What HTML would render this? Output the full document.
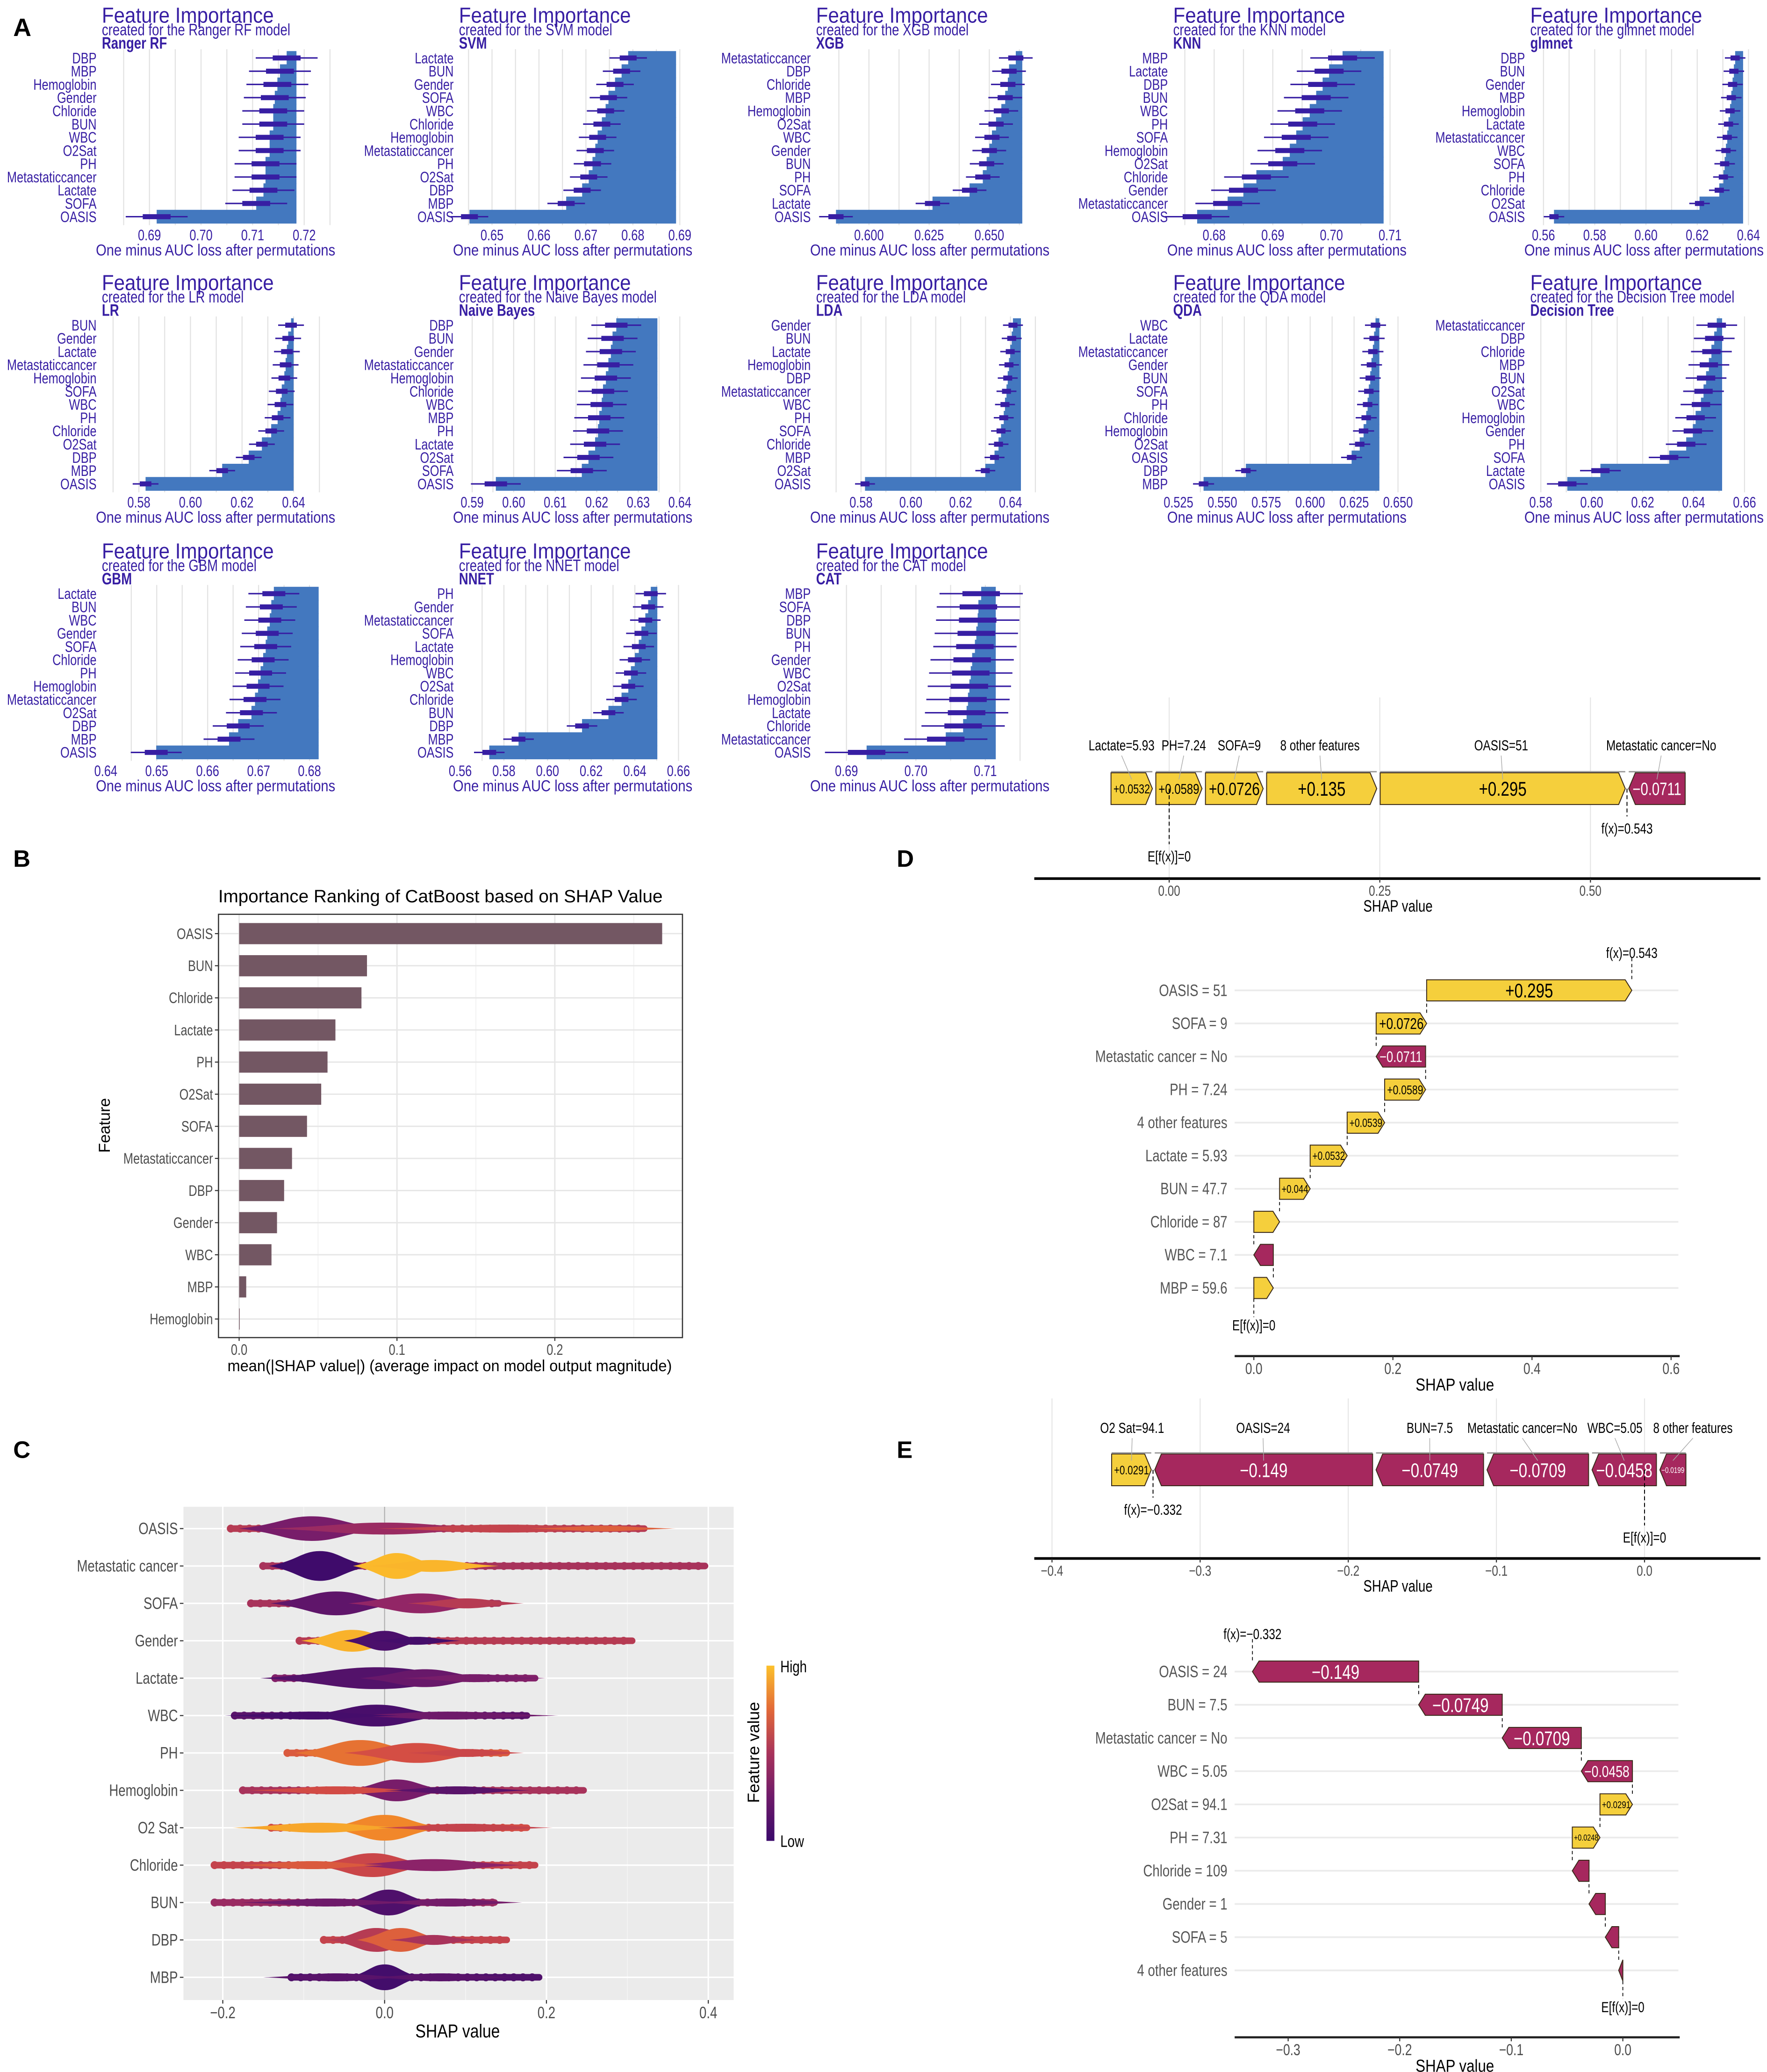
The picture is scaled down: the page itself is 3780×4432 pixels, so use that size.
<!DOCTYPE html>
<html><head><meta charset="utf-8"><title>Model explanation figure</title>
<style>
html,body{margin:0;padding:0;background:#fff;}
svg{display:block;}
text{font-family:"Liberation Sans",sans-serif;}
</style></head>
<body>
<svg id="fig" xmlns="http://www.w3.org/2000/svg" width="3780" height="4432" viewBox="0 0 1336 1566">
<rect x="0" y="0" width="1336" height="1566" fill="#fff"/>
<text x="10" y="27" font-size="19" font-weight="bold">A</text>
<text x="10" y="655" font-size="18" font-weight="bold">B</text>
<text x="10" y="1102" font-size="18" font-weight="bold">C</text>
<text x="678" y="655" font-size="18" font-weight="bold">D</text>
<text x="678" y="1102" font-size="18" font-weight="bold">E</text>
</svg>
<script>
// ---------- Panel A data ----------
const fiModels = ['Ranger RF','SVM','XGB','KNN','glmnet','LR','Naive Bayes','LDA','QDA','Decision Tree','GBM','NNET','CAT'];
const fiFeatures = [
 ['DBP','MBP','Hemoglobin','Gender','Chloride','BUN','WBC','O2Sat','PH','Metastaticcancer','Lactate','SOFA','OASIS'],
 ['Lactate','BUN','Gender','SOFA','WBC','Chloride','Hemoglobin','Metastaticcancer','PH','O2Sat','DBP','MBP','OASIS'],
 ['Metastaticcancer','DBP','Chloride','MBP','Hemoglobin','O2Sat','WBC','Gender','BUN','PH','SOFA','Lactate','OASIS'],
 ['MBP','Lactate','DBP','BUN','WBC','PH','SOFA','Hemoglobin','O2Sat','Chloride','Gender','Metastaticcancer','OASIS'],
 ['DBP','BUN','Gender','MBP','Hemoglobin','Lactate','Metastaticcancer','WBC','SOFA','PH','Chloride','O2Sat','OASIS'],
 ['BUN','Gender','Lactate','Metastaticcancer','Hemoglobin','SOFA','WBC','PH','Chloride','O2Sat','DBP','MBP','OASIS'],
 ['DBP','BUN','Gender','Metastaticcancer','Hemoglobin','Chloride','WBC','MBP','PH','Lactate','O2Sat','SOFA','OASIS'],
 ['Gender','BUN','Lactate','Hemoglobin','DBP','Metastaticcancer','WBC','PH','SOFA','Chloride','MBP','O2Sat','OASIS'],
 ['WBC','Lactate','Metastaticcancer','Gender','BUN','SOFA','PH','Chloride','Hemoglobin','O2Sat','OASIS','DBP','MBP'],
 ['Metastaticcancer','DBP','Chloride','MBP','BUN','O2Sat','WBC','Hemoglobin','Gender','PH','SOFA','Lactate','OASIS'],
 ['Lactate','BUN','WBC','Gender','SOFA','Chloride','PH','Hemoglobin','Metastaticcancer','O2Sat','DBP','MBP','OASIS'],
 ['PH','Gender','Metastaticcancer','SOFA','Lactate','Hemoglobin','WBC','O2Sat','Chloride','BUN','DBP','MBP','OASIS'],
 ['MBP','SOFA','DBP','BUN','PH','Gender','WBC','O2Sat','Hemoglobin','Lactate','Chloride','Metastaticcancer','OASIS']
];
const fiValues = [
 [0.7166,0.7153,0.7148,0.7143,0.7140,0.7140,0.7133,0.7133,0.7125,0.7125,0.7121,0.7107,0.6914],
 [0.6790,0.6776,0.6762,0.6748,0.6742,0.6734,0.6725,0.6720,0.6714,0.6706,0.6692,0.6658,0.6452],
 [0.6610,0.6582,0.6577,0.6566,0.6550,0.6528,0.6511,0.6500,0.6489,0.6473,0.6418,0.6264,0.5863],
 [0.7019,0.6996,0.6985,0.6974,0.6963,0.6951,0.6940,0.6929,0.6917,0.6872,0.6850,0.6823,0.6771],
 [0.6348,0.6343,0.6338,0.6333,0.6328,0.6322,0.6317,0.6312,0.6307,0.6302,0.6286,0.6209,0.5641],
 [0.6390,0.6379,0.6374,0.6369,0.6364,0.6354,0.6349,0.6338,0.6313,0.6277,0.6226,0.6123,0.5826],
 [0.6247,0.6238,0.6234,0.6228,0.6222,0.6215,0.6212,0.6206,0.6203,0.6196,0.6180,0.6164,0.5957],
 [0.6410,0.6405,0.6399,0.6394,0.6389,0.6384,0.6378,0.6373,0.6362,0.6352,0.6336,0.6299,0.5816],
 [0.6372,0.6364,0.6357,0.6349,0.6342,0.6334,0.6327,0.6319,0.6304,0.6282,0.6236,0.5634,0.5393],
 [0.6491,0.6481,0.6470,0.6460,0.6449,0.6439,0.6429,0.6408,0.6397,0.6371,0.6304,0.6034,0.5904],
 [0.6730,0.6725,0.6722,0.6717,0.6714,0.6709,0.6704,0.6699,0.6693,0.6686,0.6660,0.6642,0.6499],
 [0.6473,0.6461,0.6448,0.6430,0.6418,0.6400,0.6382,0.6370,0.6339,0.6279,0.6158,0.5867,0.5733],
 [0.7094,0.7090,0.7089,0.7087,0.7085,0.7081,0.7079,0.7077,0.7075,0.7073,0.7068,0.7043,0.6929]
];
const fiBase = [0.7185,0.6892,0.6637,0.7089,0.6379,0.6400,0.6346,0.6442,0.6394,0.6512,0.6818,0.6503,0.7115];
const fiSpread = [0.006,0.004,0.007,0.0055,0.004,0.005,0.006,0.004,0.006,0.008,0.005,0.007,0.006];
const fiTicks = [
 [0.69,0.70,0.71,0.72],[0.65,0.66,0.67,0.68,0.69],[0.600,0.625,0.650],[0.68,0.69,0.70,0.71],[0.56,0.58,0.60,0.62,0.64],
 [0.58,0.60,0.62,0.64],[0.59,0.60,0.61,0.62,0.63,0.64],[0.58,0.60,0.62,0.64],[0.525,0.550,0.575,0.600,0.625,0.650],[0.58,0.60,0.62,0.64,0.66],
 [0.64,0.65,0.66,0.67,0.68],[0.56,0.58,0.60,0.62,0.64,0.66],[0.69,0.70,0.71]
];
const fiTickLabels = [
 ['0.69','0.70','0.71','0.72'],['0.65','0.66','0.67','0.68','0.69'],['0.600','0.625','0.650'],['0.68','0.69','0.70','0.71'],['0.56','0.58','0.60','0.62','0.64'],
 ['0.58','0.60','0.62','0.64'],['0.59','0.60','0.61','0.62','0.63','0.64'],['0.58','0.60','0.62','0.64'],['0.525','0.550','0.575','0.600','0.625','0.650'],['0.58','0.60','0.62','0.64','0.66'],
 ['0.64','0.65','0.66','0.67','0.68'],['0.56','0.58','0.60','0.62','0.64','0.66'],['0.69','0.70','0.71']
];
// layout: pixel position (relative to panel) of first and last tick
const fiAxisLayout = [[113,230],[102,244],[117,208],[108,241],[87,242],[105,222],[87,244],[111,224],[81,247],[85,239],[80,234],[78,243],[100,205]];

// ---------- Panel B data ----------
const barFeatures = ['OASIS','BUN','Chloride','Lactate','PH','O2Sat','SOFA','Metastaticcancer','DBP','Gender','WBC','MBP','Hemoglobin'];
const barValues = [0.268,0.081,0.0775,0.061,0.056,0.052,0.043,0.0335,0.0285,0.024,0.0205,0.0045,0.0004];
const barTicks = [0.0,0.1,0.2];
const barTickLabels = ['0.0','0.1','0.2'];

// ---------- Panel C data ----------
const beeFeatures = ['OASIS','Metastatic cancer','SOFA','Gender','Lactate','WBC','PH','Hemoglobin','O2 Sat','Chloride','BUN','DBP','MBP'];
const beeMin = [-0.195,-0.155,-0.17,-0.11,-0.14,-0.19,-0.125,-0.18,-0.145,-0.215,-0.215,-0.08,-0.12];
const beeMax = [0.325,0.40,0.145,0.31,0.19,0.18,0.155,0.25,0.18,0.19,0.14,0.155,0.195];
const beeTailLevel = [0.55,0.5,0.5,0.55,0.35,0.15,0.7,0.5,0.65,0.6,0.45,0.6,0.1];
// components: [center, sigma, relative half-height, feature-value level 0..1]
const beeComponents = [
 [[0.0,0.08,0.3,0.45],[0.15,0.09,0.2,0.6],[0.27,0.05,0.14,0.72],[-0.09,0.05,0.62,0.3]],
 [[-0.08,0.035,0.75,0.02],[0.06,0.045,0.3,0.97],[0.015,0.03,0.65,0.98]],
 [[0.1,0.04,0.25,0.55],[0.045,0.05,0.5,0.42],[-0.06,0.045,0.6,0.18]],
 [[0.04,0.03,0.2,0.05],[-0.04,0.035,0.55,0.96],[0.0,0.028,0.5,0.08]],
 [[0.11,0.05,0.2,0.3],[-0.01,0.08,0.55,0.12],[0.05,0.045,0.45,0.22]],
 [[-0.09,0.06,0.2,0.05],[0.08,0.075,0.2,0.25],[-0.01,0.05,0.55,0.07]],
 [[0.1,0.04,0.2,0.62],[0.04,0.05,0.5,0.66],[-0.03,0.045,0.65,0.78]],
 [[-0.06,0.06,0.2,0.65],[0.09,0.05,0.2,0.15],[0.015,0.035,0.55,0.3]],
 [[-0.08,0.06,0.25,0.93],[0.1,0.06,0.2,0.6],[0.0,0.04,0.65,0.85]],
 [[-0.09,0.05,0.2,0.7],[0.06,0.06,0.3,0.4],[-0.015,0.042,0.6,0.62]],
 [[-0.07,0.06,0.2,0.25],[0.08,0.05,0.2,0.28],[0.005,0.03,0.65,0.1]],
 [[0.06,0.03,0.25,0.5],[-0.01,0.033,0.6,0.55],[0.02,0.03,0.6,0.72]],
 [[-0.06,0.05,0.2,0.15],[0.07,0.05,0.2,0.15],[0.0,0.025,0.65,0.04]]
];
const beeTicks = [-0.2,0.0,0.2,0.4];
const beeTickLabels = ['\u22120.2','0.0','0.2','0.4'];

// ---------- Panel D data ----------
const forceDLabels = ['Lactate=5.93','PH=7.24','SOFA=9','8 other features','OASIS=51','Metastatic cancer=No'];
const forceDValues = [0.0532,0.0589,0.0726,0.1348,0.295,-0.0711];
const forceDTicks = [0.0,0.25,0.5];
const forceDTickLabels = ['0.00','0.25','0.50'];
const waterDLabels = ['OASIS = 51','SOFA = 9','Metastatic cancer = No','PH = 7.24','4 other features','Lactate = 5.93','BUN = 47.7','Chloride = 87','WBC = 7.1','MBP = 59.6'];
const waterDValues = [0.295,0.0726,-0.0711,0.0589,0.0539,0.0532,0.044,0.037,-0.028,0.028];
const waterDTicks = [0.0,0.2,0.4,0.6];
const waterDTickLabels = ['0.0','0.2','0.4','0.6'];

// ---------- Panel E data ----------
const forceELabels = ['O2 Sat=94.1','OASIS=24','BUN=7.5','Metastatic cancer=No','WBC=5.05','8 other features'];
const forceEValues = [0.0291,-0.1494,-0.0749,-0.0709,-0.0458,-0.0199];
const forceETicks = [-0.4,-0.3,-0.2,-0.1,0.0];
const forceETickLabels = ['\u22120.4','\u22120.3','\u22120.2','\u22120.1','0.0'];
const waterELabels = ['OASIS = 24','BUN = 7.5','Metastatic cancer = No','WBC = 5.05','O2Sat = 94.1','PH = 7.31','Chloride = 109','Gender = 1','SOFA = 5','4 other features'];
const waterEValues = [-0.149,-0.0749,-0.0709,-0.0458,0.0291,0.0248,-0.015,-0.0146,-0.012,-0.0037];
const waterETicks = [-0.3,-0.2,-0.1,0.0];
const waterETickLabels = ['\u22120.3','\u22120.2','\u22120.1','0.0'];

// ---------- helpers ----------
const NS = 'http://www.w3.org/2000/svg';
const fig = document.getElementById('fig');
function mk(parent, tag, attrs, name, text) {
  const el = document.createElementNS(NS, tag);
  for (const k in attrs) el.setAttribute(k, attrs[k]);
  
  
  if (text !== undefined) el.textContent = text;
  parent.appendChild(el);
  return el;
}
// condensed text (emulates narrow font)
function T(parent, x, y, attrs, name, text, sx) {
  const s = sx === undefined ? 0.78 : sx;
  attrs.transform = 'translate(' + x + ' ' + y + ') scale(' + s + ' 1)';
  attrs.x = 0; attrs.y = 0;
  return mk(parent, 'text', attrs, name, text);
}
function group(name) { return mk(fig, 'g', {}, name); }
function fmt(v) {
  const a = Math.abs(v);
  const s = String(Number(a.toPrecision(3)));
  return (v >= 0 ? '+' : '\u2212') + s;
}
const YEL = '#f5cf3c', MAG = '#a6285e';

// ---------- Panel A ----------
(function () {
  const rowY = [0, 202, 405];
  const C = '#371ea3';
  for (let p = 0; p < fiModels.length; p++) {
    const g = group('feature-importance-' + fiModels[p].toLowerCase().replace(/ /g, '-'));
    const ox = (p % 5) * 270, oy = rowY[Math.floor(p / 5)];
    const t = fiTicks[p], a = fiAxisLayout[p];
    const t0 = t[0], tN = t[t.length - 1];
    const x = v => ox + a[0] + (v - t0) * (a[1] - a[0]) / (tN - t0);
    const step = (t[1] - t[0]) / 2;
    for (let k = -10; k < 40; k++) {
      const gv = t0 + k * step, gx = x(gv);
      if (gx < ox + 82 || gx > ox + 252) continue;
      mk(g, 'line', {x1: gx, x2: gx, y1: oy + 37, y2: oy + 170, stroke: '#e2e2e2', 'stroke-width': 0.8}, 'gridline');
    }
    mk(g, 'text', {x: ox + 77, y: oy + 17, 'font-size': 16.5, fill: C, textLength: 130, lengthAdjust: 'spacingAndGlyphs'}, 'chart-title', 'Feature Importance');
    T(g, ox + 77, oy + 26.5, {'font-size': 12.5, fill: C}, 'chart-subtitle', 'created for the ' + fiModels[p] + ' model');
    T(g, ox + 77, oy + 36.5, {'font-size': 12.5, fill: C, 'font-weight': 'bold'}, 'model-name', fiModels[p]);
    const base = fiBase[p], s = fiSpread[p];
    for (let i = 0; i < 13; i++) {
      const y = oy + 43.6 + i * 10;
      const v = fiValues[p][i];
      mk(g, 'rect', {x: Math.min(x(v), x(base)), y: y - 5.2, width: Math.abs(x(base) - x(v)), height: 10.4, fill: '#4378bf'}, 'bar-' + fiFeatures[p][i].toLowerCase());
    }
    for (let i = 0; i < 13; i++) {
      const y = oy + 43.6 + i * 10;
      const v = fiValues[p][i];
      mk(g, 'line', {x1: x(v - s), x2: x(v + s), y1: y, y2: y, stroke: C, 'stroke-width': 1.1}, 'whisker');
      mk(g, 'rect', {x: x(v - 0.45 * s), y: y - 1.9, width: x(v + 0.45 * s) - x(v - 0.45 * s), height: 3.8, fill: C}, 'box');
      T(g, ox + 73, y + 4, {'font-size': 11.5, fill: C, 'text-anchor': 'end'}, 'row-label', fiFeatures[p][i]);
    }
    for (let k = 0; k < t.length; k++) {
      T(g, x(t[k]), oy + 181.5, {'font-size': 11.5, fill: C, 'text-anchor': 'middle'}, 'x-tick-label', fiTickLabels[p][k]);
    }
    mk(g, 'text', {x: ox + 163, y: oy + 193, 'font-size': 12, fill: C, 'text-anchor': 'middle', textLength: 181, lengthAdjust: 'spacingAndGlyphs'}, 'x-axis-title', 'One minus AUC loss after permutations');
  }
})();

// ---------- Panel B ----------
(function () {
  const g = group('shap-importance-bar-chart');
  const x0 = 180.8, k = 1193.5;
  const x = v => x0 + v * k;
  const yRow = i => 705.6 + i * 24.28;
  mk(g, 'text', {x: 165, y: 682, 'font-size': 13.5, fill: '#000', textLength: 336, lengthAdjust: 'spacingAndGlyphs'}, 'chart-title', 'Importance Ranking of CatBoost based on SHAP Value');
  mk(g, 'rect', {x: 165.2, y: 691, width: 350.8, height: 320, fill: '#fff'}, 'plot-area');
  for (let v = 0.05; v < 0.3; v += 0.1) mk(g, 'line', {x1: x(v), x2: x(v), y1: 691, y2: 1011, stroke: '#f2f2f2', 'stroke-width': 0.7}, 'minor-gridline');
  barTicks.forEach(v => mk(g, 'line', {x1: x(v), x2: x(v), y1: 691, y2: 1011, stroke: '#e6e6e6', 'stroke-width': 1}, 'gridline'));
  barFeatures.forEach((f, i) => mk(g, 'line', {x1: 165.2, x2: 516, y1: yRow(i), y2: yRow(i), stroke: '#e6e6e6', 'stroke-width': 1}, 'gridline'));
  barFeatures.forEach((f, i) => {
    mk(g, 'rect', {x: x(0), y: yRow(i) - 8, width: Math.max(0.4, barValues[i] * k), height: 16, fill: '#735763'}, 'bar-' + f.toLowerCase());
    mk(g, 'line', {x1: 162.5, x2: 165.2, y1: yRow(i), y2: yRow(i), stroke: '#333', 'stroke-width': 0.8}, 'y-tick');
    T(g, 161, yRow(i) + 4, {'font-size': 11.5, fill: '#4d4d4d', 'text-anchor': 'end'}, 'y-tick-label', f);
  });
  mk(g, 'rect', {x: 165.2, y: 691, width: 350.8, height: 320, fill: 'none', stroke: '#333', 'stroke-width': 0.9}, 'plot-border');
  barTicks.forEach((v, i) => {
    mk(g, 'line', {x1: x(v), x2: x(v), y1: 1011, y2: 1013.5, stroke: '#333', 'stroke-width': 0.8}, 'x-tick');
    T(g, x(v), 1024, {'font-size': 11.5, fill: '#4d4d4d', 'text-anchor': 'middle'}, 'x-tick-label', barTickLabels[i]);
  });
  mk(g, 'text', {x: 340, y: 1036.5, 'font-size': 12, fill: '#000', 'text-anchor': 'middle', textLength: 336, lengthAdjust: 'spacingAndGlyphs'}, 'x-axis-title', 'mean(|SHAP value|) (average impact on model output magnitude)');
  mk(g, 'text', {x: 83, y: 850.6, 'font-size': 12, fill: '#000', 'text-anchor': 'middle', transform: 'rotate(-90 83 850.6)'}, 'y-axis-title', 'Feature');
})();

// ---------- Panel C ----------
function cmap(t) {
  const stops = [[0, [59, 10, 107]], [0.4, [140, 35, 105]], [0.65, [210, 75, 69]], [0.85, [241, 135, 42]], [1, [252, 193, 43]]];
  t = Math.max(0, Math.min(1, t));
  for (let i = 1; i < stops.length; i++) {
    if (t <= stops[i][0]) {
      const a = stops[i - 1], b = stops[i], f = (t - a[0]) / (b[0] - a[0]);
      const c = a[1].map((v, j) => Math.round(v + (b[1][j] - v) * f));
      return 'rgb(' + c.join(',') + ')';
    }
  }
  return 'rgb(252,193,43)';
}
(function () {
  const g = group('shap-beeswarm-chart');
  const x = v => 290.8 + v * 611.8;
  const yRow = i => 1155.4 + i * 28.27;
  mk(g, 'rect', {x: 138.7, y: 1138.9, width: 416, height: 372.9, fill: '#ebebeb'}, 'plot-background');
  for (let v = -0.1; v < 0.45; v += 0.2) mk(g, 'line', {x1: x(v), x2: x(v), y1: 1138.9, y2: 1511.8, stroke: '#f5f5f5', 'stroke-width': 0.6}, 'minor-gridline');
  beeTicks.forEach(v => mk(g, 'line', {x1: x(v), x2: x(v), y1: 1138.9, y2: 1511.8, stroke: '#fff', 'stroke-width': 1.1}, 'gridline'));
  beeFeatures.forEach((f, i) => mk(g, 'line', {x1: 138.7, x2: 554.7, y1: yRow(i), y2: yRow(i), stroke: '#fff', 'stroke-width': 1.1}, 'gridline'));
  mk(g, 'line', {x1: x(0), x2: x(0), y1: 1138.9, y2: 1511.8, stroke: '#b5b5b5', 'stroke-width': 0.9}, 'zero-line');
  beeFeatures.forEach((f, i) => {
    const y = yRow(i);
    const fg = mk(g, 'g', {}, 'beeswarm-row-' + f.toLowerCase().replace(/ /g, '-'));
    const col = cmap(beeTailLevel[i]);
    mk(fg, 'rect', {x: x(beeMin[i]), y: y - 2.5, width: x(beeMax[i]) - x(beeMin[i]), height: 5, rx: 2.5, fill: col}, 'point-band');
    for (let px = x(beeMin[i]) + 3; px <= x(beeMax[i]) - 3; px += 7) {
      mk(fg, 'circle', {cx: px, cy: y, r: 3, fill: col}, 'point');
    }
    const comps = beeComponents[i].slice().sort((a, b) => b[1] * b[2] - a[1] * a[2]);
    comps.forEach(c => {
      const cx = x(c[0]), rx = 1.8 * c[1] * 611.8, ry = c[2] * 15;
      const d = 'M' + (cx - rx) + ',' + y +
        ' C' + (cx - rx * 0.45) + ',' + (y - ry * 0.35) + ' ' + (cx - rx * 0.35) + ',' + (y - ry) + ' ' + cx + ',' + (y - ry) +
        ' C' + (cx + rx * 0.35) + ',' + (y - ry) + ' ' + (cx + rx * 0.45) + ',' + (y - ry * 0.35) + ' ' + (cx + rx) + ',' + y +
        ' C' + (cx + rx * 0.45) + ',' + (y + ry * 0.35) + ' ' + (cx + rx * 0.35) + ',' + (y + ry) + ' ' + cx + ',' + (y + ry) +
        ' C' + (cx - rx * 0.35) + ',' + (y + ry) + ' ' + (cx - rx * 0.45) + ',' + (y + ry * 0.35) + ' ' + (cx - rx) + ',' + y + ' Z';
      mk(fg, 'path', {d: d, fill: cmap(c[3])}, 'density-blob');
    });
    mk(g, 'line', {x1: 136, x2: 138.7, y1: y, y2: y, stroke: '#333', 'stroke-width': 0.8}, 'y-tick');
    T(g, 134.5, y + 4.2, {'font-size': 12.5, fill: '#4d4d4d', 'text-anchor': 'end'}, 'y-tick-label', f);
  });
  beeTicks.forEach((v, i) => {
    mk(g, 'line', {x1: x(v), x2: x(v), y1: 1511.8, y2: 1514.5, stroke: '#333', 'stroke-width': 0.8}, 'x-tick');
    T(g, x(v), 1525.5, {'font-size': 12.5, fill: '#4d4d4d', 'text-anchor': 'middle'}, 'x-tick-label', beeTickLabels[i]);
  });
  T(g, 346, 1540, {'font-size': 14, fill: '#000', 'text-anchor': 'middle'}, 'x-axis-title', 'SHAP value', 0.85);
  const defs = mk(g, 'defs', {}, 'defs');
  const lg = mk(defs, 'linearGradient', {id: 'cbar', x1: 0, y1: 1, x2: 0, y2: 0}, 'colorbar-gradient');
  [0, 0.25, 0.5, 0.75, 1].forEach(t => mk(lg, 'stop', {offset: t, 'stop-color': cmap(t)}, 'gradient-stop'));
  mk(g, 'rect', {x: 579.5, y: 1259, width: 6, height: 132.5, fill: 'url(#cbar)'}, 'colorbar');
  T(g, 590, 1264, {'font-size': 12.5, fill: '#000'}, 'legend-high', 'High');
  T(g, 590, 1396, {'font-size': 12.5, fill: '#000'}, 'legend-low', 'Low');
  mk(g, 'text', {x: 574, y: 1324.6, 'font-size': 12.5, fill: '#000', 'text-anchor': 'middle', transform: 'rotate(-90 574 1324.6)'}, 'legend-title', 'Feature value');
})();

// ---------- force plot ----------
function forcePlot(name, labels, values, ticks, tickLabels, L) {
  const g = group(name);
  const x = v => L.x0 + v * L.k;
  ticks.forEach(v => mk(g, 'line', {x1: x(v), x2: x(v), y1: L.gridTop, y2: L.axisY, stroke: '#e6e6e6', 'stroke-width': 0.8}, 'gridline'));
  const f = values.reduce((s, v) => s + v, 0);
  const sumPos = values.filter(v => v > 0).reduce((s, v) => s + v, 0);
  let curP = f - sumPos, curN = f;
  const d = 5, top = L.barY - 12, bot = L.barY + 12;
  values.forEach((v, i) => {
    let a, b;
    if (v > 0) { a = curP; b = curP + v; curP = b; } else { a = curN; b = curN - v; curN = b; }
    const xa = x(a) + 1.3, xb = x(b) - 1.3;
    let pts;
    if (v > 0) pts = [[xa, top], [xb - d, top], [xb, L.barY], [xb - d, bot], [xa, bot]];
    else pts = [[xa + d, top], [xb, top], [xb, bot], [xa + d, bot], [xa, L.barY]];
    mk(g, 'polygon', {points: pts.map(p => p.join(',')).join(' '), fill: v > 0 ? YEL : MAG, stroke: '#3a2a1a', 'stroke-width': 0.7}, 'segment-' + labels[i].toLowerCase().replace(/[^a-z0-9]+/g, '-'));
    mk(g, 'line', {x1: xa, x2: xb, y1: top - 0.8, y2: top - 0.8, stroke: '#999', 'stroke-width': 1}, 'segment-shadow');
    const w = xb - xa;
    const txt = fmt(v);
    const fs = Math.min(15, w / (txt.length * 0.46));
    T(g, (xa + xb) / 2, L.barY + fs * 0.36, {'font-size': fs.toFixed(2), fill: v > 0 ? '#000' : '#fff', 'text-anchor': 'middle'}, 'segment-value', txt);
    const cx = (xa + xb) / 2;
    mk(g, 'line', {x1: L.labelX[i], x2: cx, y1: L.labelY + 4, y2: top + 5, stroke: '#aaa', 'stroke-width': 0.5}, 'leader-line');
    T(g, L.labelX[i], L.labelY, {'font-size': 11, fill: '#000', 'text-anchor': 'middle'}, 'feature-label', labels[i]);
  });
  mk(g, 'line', {x1: x(0), x2: x(0), y1: L.barY, y2: L.eY - 9, stroke: '#000', 'stroke-width': 0.7, 'stroke-dasharray': '3,2'}, 'base-value-line');
  T(g, x(0), L.eY + 4, {'font-size': 11, fill: '#000', 'text-anchor': 'middle'}, 'base-value-label', 'E[f(x)]=0');
  mk(g, 'line', {x1: x(f), x2: x(f), y1: L.barY, y2: L.fY - 9, stroke: '#000', 'stroke-width': 0.7, 'stroke-dasharray': '3,2'}, 'prediction-line');
  T(g, x(f), L.fY + 4, {'font-size': 11, fill: '#000', 'text-anchor': 'middle'}, 'prediction-label', 'f(x)=' + (f < 0 ? '\u2212' : '') + Math.abs(f).toFixed(3));
  mk(g, 'line', {x1: 782, x2: 1331, y1: L.axisY, y2: L.axisY, stroke: '#000', 'stroke-width': 2}, 'x-axis-line');
  ticks.forEach((v, i) => {
    mk(g, 'line', {x1: x(v), x2: x(v), y1: L.axisY, y2: L.axisY + 3, stroke: '#333', 'stroke-width': 0.8}, 'x-tick');
    T(g, x(v), L.axisY + 13, {'font-size': 11, fill: '#4d4d4d', 'text-anchor': 'middle'}, 'x-tick-label', tickLabels[i]);
  });
  T(g, 1057, L.axisY + 25, {'font-size': 12.5, fill: '#000', 'text-anchor': 'middle'}, 'x-axis-title', 'SHAP value');
}
forcePlot('force-plot-d', forceDLabels, forceDValues, forceDTicks, forceDTickLabels,
  {x0: 884, k: 637, barY: 596, labelY: 567, labelX: [848, 895, 937, 998, 1135, 1256], gridTop: 527, axisY: 664, eY: 647, fY: 626});
forcePlot('force-plot-e', forceELabels, forceEValues, forceETicks, forceETickLabels,
  {x0: 1243.4, k: 1120, barY: 1111, labelY: 1083, labelX: [856, 955, 1081, 1151, 1221, 1280], gridTop: 1057, axisY: 1178, eY: 1162, fY: 1141});

// ---------- waterfall ----------
function waterfall(name, labels, values, ticks, tickLabels, L) {
  const g = group(name);
  const x = v => L.x0 + v * L.k;
  const n = values.length;
  const yRow = i => L.y0 + i * L.step;
  labels.forEach((lab, i) => {
    mk(g, 'line', {x1: 933.5, x2: 1269, y1: yRow(i), y2: yRow(i), stroke: '#ebebeb', 'stroke-width': 1.3}, 'gridline');
    T(g, 928, yRow(i) + 4.2, {'font-size': 12.5, fill: '#555', 'text-anchor': 'end'}, 'y-tick-label', lab);
  });
  let cum = 0;
  const starts = [], ends = [];
  for (let i = n - 1; i >= 0; i--) { starts[i] = cum; cum += values[i]; ends[i] = cum; }
  const f = cum;
  const h = 8, d = 5;
  for (let i = 0; i < n; i++) {
    const v = values[i], y = yRow(i);
    const lo = Math.min(x(starts[i]), x(ends[i])), hi = Math.max(x(starts[i]), x(ends[i]));
    const dd = Math.min(d, hi - lo);
    let pts;
    if (v > 0) pts = [[lo, y - h], [hi - dd, y - h], [hi, y], [hi - dd, y + h], [lo, y + h]];
    else pts = [[lo + dd, y - h], [hi, y - h], [hi, y + h], [lo + dd, y + h], [lo, y]];
    mk(g, 'polygon', {points: pts.map(p => p.join(',')).join(' '), fill: v > 0 ? YEL : MAG, stroke: '#3a2a1a', 'stroke-width': 0.7}, 'waterfall-bar-' + labels[i].toLowerCase().replace(/[^a-z0-9]+/g, '-'));
    const txt = fmt(v);
    const fs = Math.min(15, (hi - lo) / (txt.length * 0.46));
    if ((hi - lo) > 20) T(g, (lo + hi) / 2, y + fs * 0.36, {'font-size': fs.toFixed(2), fill: v > 0 ? '#000' : '#fff', 'text-anchor': 'middle'}, 'bar-value', txt);
    if (i > 0) mk(g, 'line', {x1: x(ends[i]), x2: x(ends[i]), y1: y - h, y2: yRow(i - 1) + h, stroke: '#000', 'stroke-width': 0.6, 'stroke-dasharray': '2.5,2'}, 'connector');
  }
  mk(g, 'line', {x1: x(f), x2: x(f), y1: L.fY + 4, y2: yRow(0) - h, stroke: '#000', 'stroke-width': 0.6, 'stroke-dasharray': '2.5,2'}, 'prediction-line');
  T(g, x(f), L.fY + 4, {'font-size': 11, fill: '#000', 'text-anchor': 'middle'}, 'prediction-label', 'f(x)=' + (f < 0 ? '\u2212' : '') + Math.abs(f).toFixed(3));
  mk(g, 'line', {x1: x(0), x2: x(0), y1: yRow(n - 1) + h, y2: L.eY - 6, stroke: '#000', 'stroke-width': 0.6, 'stroke-dasharray': '2.5,2'}, 'base-value-line');
  T(g, x(0), L.eY + 4, {'font-size': 11, fill: '#000', 'text-anchor': 'middle'}, 'base-value-label', 'E[f(x)]=0');
  mk(g, 'line', {x1: 933.5, x2: 1270, y1: L.axisY, y2: L.axisY, stroke: '#222', 'stroke-width': 1.6}, 'x-axis-line');
  ticks.forEach((v, i) => {
    mk(g, 'line', {x1: x(v), x2: x(v), y1: L.axisY, y2: L.axisY + 3, stroke: '#333', 'stroke-width': 0.8}, 'x-tick');
    T(g, x(v), L.axisY + 13.5, {'font-size': 12, fill: '#4d4d4d', 'text-anchor': 'middle'}, 'x-tick-label', tickLabels[i]);
  });
  T(g, 1100, L.axisY + 26, {'font-size': 13, fill: '#000', 'text-anchor': 'middle'}, 'x-axis-title', 'SHAP value', 0.85);
}
waterfall('waterfall-plot-d', waterDLabels, waterDValues, waterDTicks, waterDTickLabels,
  {x0: 948, k: 525.8, y0: 748.5, step: 25, fY: 720, eY: 1001.5, axisY: 1025});
waterfall('waterfall-plot-e', waterELabels, waterEValues, waterETicks, waterETickLabels,
  {x0: 1227, k: 843.5, y0: 1263.5, step: 25.1, fY: 1235, eY: 1517, axisY: 1540});
</script>
</body></html>
